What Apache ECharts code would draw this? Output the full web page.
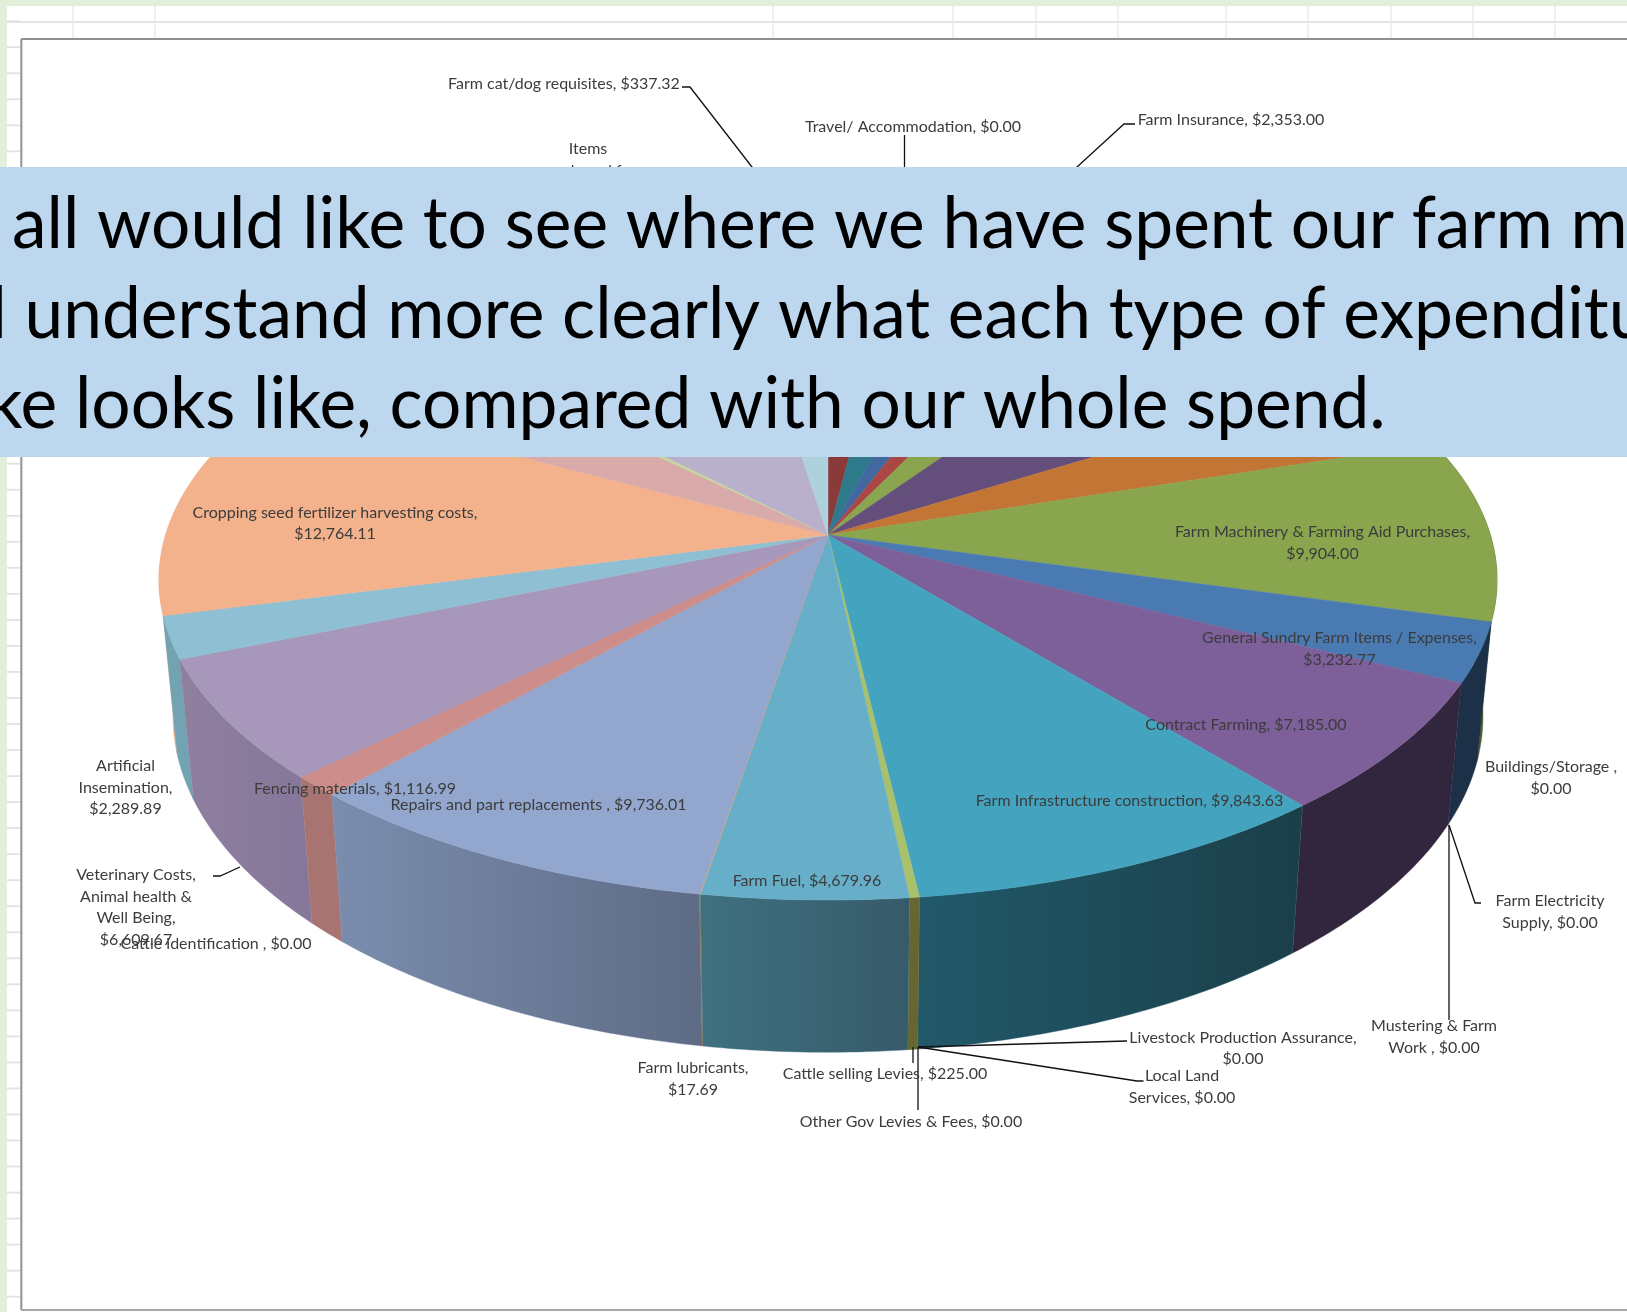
<!DOCTYPE html>
<html><head><meta charset="utf-8">
<style>html,body{margin:0;padding:0;background:#fff}#c{width:1627px;height:1312px}</style>
<script src="https://cdn.jsdelivr.net/npm/echarts@6/dist/echarts.min.js"></script>
</head><body><div id="c"></div>
<script>
// ---------- data, clockwise from 12 o'clock ----------
const categories = [
 "Farm Machinery Hire","Farm Insurance","Farm Admin","Farm Licences","Farm Tools","Livestock Purchases","Farm Transport",
 "Farm Machinery & Farming Aid Purchases","Buildings/Storage ","Farm Electricity Supply","Mustering & Farm Work ",
 "General Sundry Farm Items / Expenses","Contract Farming","Farm Infrastructure construction",
 "Livestock Production Assurance","Local Land Services","Other Gov Levies & Fees","Cattle selling Levies",
 "Farm Fuel","Farm lubricants","Repairs and part replacements ","Cattle identification ","Fencing materials",
 "Veterinary Costs, Animal health & Well Being","Artificial Insemination","Cropping seed fertilizer harvesting costs",
 "Farm Pasture Costs","Farm cat/dog requisites","Items purchased for farm","Travel/ Accommodation","Farm Advisory Fees"];
const spend = [
 2200,2353,1700,1550,2600,7020,4250,
 9904,0,0,0,
 3232.77,7185,9843.63,
 0,0,0,225,
 4679.96,17.69,9736.01,0,1116.99,
 6609.67,2289.89,12764.11,
 4800,337.32,10650,0,2700];
const topColors = [
 "#8b3a3a","#2e7a8a","#41699f","#aa4643","#89a54e","#634e7c","#c27535",
 "#89a54e","#4a7ab2","#7d5f99","#44a3bf",
 "#4a7ab2","#7d5f99","#44a3bf",
 "#44a3bf","#44a3bf","#44a3bf","#a9c06c",
 "#67afc9","#d9a066","#92a6ce","#92a6ce","#cd8d8a",
 "#a797bb","#8fbfd2","#f4b28c",
 "#d9aaaa","#c6d69b","#b9b0cb","#b9b0cb","#aed2dd"];
const sideColors = {
 "Farm Machinery & Farming Aid Purchases":["#4e5f2c","#4e5f2c"],
 "General Sundry Farm Items / Expenses":["#1c3047","#1c3047"],
 "Contract Farming":["#31263d","#31263d"],
 "Farm Infrastructure construction":["#21596a","#1b3f49"],
 "Cattle selling Levies":["#676630","#676630"],
 "Farm Fuel":["#3f7180","#365a69"],
 "Farm lubricants":["#9a7a55","#9a7a55"],
 "Repairs and part replacements ":["#7b8dae","#5e6b85"],
 "Fencing materials":["#a87472","#a87472"],
 "Veterinary Costs, Animal health & Well Being":["#8f7f9f","#85779a"],
 "Artificial Insemination":["#72a3b3","#72a3b3"],
 "Cropping seed fertilizer harvesting costs":["#e9a97f","#e9a97f"]
};
const bannerLines = ["all would like to see where we have spent our farm m","l understand more clearly what each type of expenditu","ke looks like, compared with our whole spend."];

// ---------- layout ----------
const W = 1627, H = 1312;
const PIE = {cx:828, cy:535, A:662.4, B:313.7, k:0.1406, wallX:0.979, wallY:1.05, wallD:134};
const labelLayout = {
 "Farm cat/dog requisites":{x:564,y:84,text:"Farm cat/dog requisites, $"},
 "Travel/ Accommodation":{x:913,y:126.5,text:"Travel/ Accommodation, $"},
 "Farm Insurance":{x:1231,y:120,text:"Farm Insurance, $"},
 "Items purchased for farm":{x:588,y:149,text:"Items\npurchased for"},
 "Cropping seed fertilizer harvesting costs":{x:335,y:512.5,text:"Cropping seed fertilizer harvesting costs,\n$"},
 "Farm Machinery & Farming Aid Purchases":{x:1322.5,y:532,text:"Farm Machinery & Farming Aid Purchases,\n$"},
 "General Sundry Farm Items / Expenses":{x:1339.5,y:638,text:"General Sundry Farm Items / Expenses,\n$"},
 "Contract Farming":{x:1246,y:725,text:"Contract Farming, $"},
 "Farm Infrastructure construction":{x:1129.5,y:801,text:"Farm Infrastructure construction, $"},
 "Farm Fuel":{x:807,y:881,text:"Farm Fuel, $"},
 "Repairs and part replacements ":{x:538.5,y:805,text:"Repairs and part replacements , $"},
 "Fencing materials":{x:355,y:788.5,text:"Fencing materials, $"},
 "Artificial Insemination":{x:125.5,y:766,text:"Artificial\nInsemination,\n$"},
 "Veterinary Costs, Animal health & Well Being":{x:136,y:875,text:"Veterinary Costs,\nAnimal health &\nWell Being,\n$"},
 "Cattle identification ":{x:216,y:944,text:"Cattle identification , $"},
 "Buildings/Storage ":{x:1551,y:767,text:"Buildings/Storage ,\n$"},
 "Farm Electricity Supply":{x:1550,y:901,text:"Farm Electricity\nSupply, $"},
 "Mustering & Farm Work ":{x:1434,y:1026,text:"Mustering & Farm\nWork , $"},
 "Livestock Production Assurance":{x:1243,y:1037.5,text:"Livestock Production Assurance,\n$"},
 "Local Land Services":{x:1182,y:1076,text:"Local Land\nServices, $"},
 "Other Gov Levies & Fees":{x:911,y:1121.6,text:"Other Gov Levies & Fees, $"},
 "Cattle selling Levies":{x:885,y:1074,text:"Cattle selling Levies, $"},
 "Farm lubricants":{x:693,y:1068,text:"Farm lubricants,\n$"}
};
const leaderLayout = {
 "Farm cat/dog requisites":[[682,87],[690,87],[752,167],[800,230]],
 "Travel/ Accommodation":[[904.5,135],[904.5,220]],
 "Farm Insurance":[[1135,124],[1124,124],[1077,167],[1000,230]],
 "Veterinary Costs, Animal health & Well Being":[[213,876],[220,876],[240,867]],
 "Farm Electricity Supply":[[1449,825],[1475,903],[1481,903]],
 "Mustering & Farm Work ":[[1449,825],[1449,1020]],
 "Livestock Production Assurance":[[918,1047],[1127,1041]],
 "Local Land Services":[[918,1047],[1137,1081],[1143.5,1081]],
 "Other Gov Levies & Fees":[[918,1047],[918,1110]],
 "Cattle selling Levies":[[913,1047],[913,1063]]
};
const gridCols = [73,155,773,953,1036,1118,1226,1308,1391,1473,1555];
const gridRowStep = 26.03, gridRowStart = 21.2;

// ---------- geometry from the values ----------
const total = spend.reduce((a,b)=>a+b,0);
let running = 0;
const sliceData = spend.map((v,i)=>{const s=running; running+=v; return [s,running,i];});
// walls are painted from the sides of the pie toward its front
const wallData = sliceData.slice().sort((p,q)=>Math.abs((q[0]+q[1])/2-total/2)-Math.abs((p[0]+p[1])/2-total/2));
function rimTop(phi){
  const w = 1 + PIE.k*Math.cos(phi);
  return [PIE.cx + PIE.A*Math.sin(phi)/w, PIE.cy - PIE.B*Math.cos(phi)/w];
}
function rimBottom(phi){
  const p = rimTop(phi);
  return [PIE.cx + (p[0]-PIE.cx)*PIE.wallX, PIE.cy + (p[1]-PIE.cy)*PIE.wallY + PIE.wallD];
}
function arc(fn,a,b){
  const n = Math.max(2,Math.ceil(Math.abs(b-a)/(Math.PI/240)));
  const out=[]; for(let i=0;i<=n;i++) out.push(fn(a+(b-a)*i/n));
  return out;
}
const toPhi = v => v/total*2*Math.PI;
function renderTop(params,api){
  const a=toPhi(api.value(0)), b=toPhi(api.value(1)), i=api.value(2);
  if(b<=a) return {type:'group',children:[]};
  const pts=[[PIE.cx,PIE.cy]].concat(arc(rimTop,a,b));
  return {type:'polygon',shape:{points:pts},style:{fill:topColors[i],stroke:topColors[i],lineWidth:0.5}};
}
function renderWall(params,api){
  const i=api.value(2); const c=sideColors[categories[i]];
  const lo=Math.max(toPhi(api.value(0)),65*Math.PI/180), hi=Math.min(toPhi(api.value(1)),295*Math.PI/180);
  if(!c||hi<=lo) return {type:'group',children:[]};
  const pts=arc(rimTop,lo,hi).concat(arc(rimBottom,hi,lo));
  return {type:'polygon',shape:{points:pts},style:{
    fill:new echarts.graphic.LinearGradient(0,0,1,0,[{offset:0,color:c[0]},{offset:1,color:c[1]}]),
    stroke:c[0],lineWidth:0.4}};
}
const money = v => v.toLocaleString('en-US',{minimumFractionDigits:2,maximumFractionDigits:2});
const LINE_H = 21.5;
function renderLabel(params,api){
  const i=api.value(2), name=categories[i], L=labelLayout[name], kids=[];
  const lead=leaderLayout[name];
  if(lead) kids.push({type:'polyline',shape:{points:lead},style:{fill:null,stroke:'#111',lineWidth:1.3}});
  if(L){
    const t = L.text.endsWith('$') ? L.text+money(spend[i]) : L.text;
    const n = t.split('\n').length;
    kids.push({type:'text',style:{x:L.x,y:L.y+(n-1)*LINE_H/2,text:t,align:'center',verticalAlign:'middle',
      font:'16px Lato',lineHeight:LINE_H,fill:'#3c3c3c',shadowBlur:1.5,shadowColor:'rgba(60,60,60,0.6)'}});
  }
  return {type:'group',children:kids};
}

// ---------- sheet furniture ----------
const sheet=[];
sheet.push({type:'rect',z:0,shape:{x:0,y:0,width:W,height:6},style:{fill:'#e2efda'}});
sheet.push({type:'rect',z:0,shape:{x:0,y:0,width:7,height:H},style:{fill:'#e2efda'}});
sheet.push({type:'line',z:0,shape:{x1:7,y1:22,x2:W,y2:22},style:{stroke:'#e4e4e4',lineWidth:1.8}});
gridCols.forEach(x=>sheet.push({type:'line',z:0,shape:{x1:x,y1:6,x2:x,y2:39},style:{stroke:'#e4e4e4',lineWidth:1.2}}));
for(let y=gridRowStart;y<H;y+=gridRowStep) sheet.push({type:'line',z:0,shape:{x1:7,y1:y,x2:20,y2:y},style:{stroke:'#e2e2e2',lineWidth:1.8}});
sheet.push({type:'line',z:1,shape:{x1:21.3,y1:39,x2:W,y2:39},style:{stroke:'#8f8f8f',lineWidth:2}});
sheet.push({type:'line',z:1,shape:{x1:21.3,y1:39,x2:21.3,y2:1310},style:{stroke:'#9a9a9a',lineWidth:2.2}});
sheet.push({type:'line',z:1,shape:{x1:21.3,y1:1310,x2:W,y2:1310},style:{stroke:'#a6a6a6',lineWidth:2}});
sheet.push({type:'rect',z:50,shape:{x:0,y:167,width:W,height:290},style:{fill:'#bdd7ee'}});
const bannerX=[12,-9.6,-12.8], bannerY=[225,315,405], BANNER_SCALE=0.964;
bannerLines.forEach((t,i)=>sheet.push({type:'text',z:51,x:bannerX[i],y:bannerY[i],scaleX:BANNER_SCALE,
  style:{x:0,y:0,text:t,font:'72px Lato',fill:'#000',verticalAlign:'middle'}}));

const chart=echarts.init(document.getElementById('c'),null,{renderer:'canvas'});
chart.setOption({
  animation:false,backgroundColor:'#fff',
  graphic:{elements:sheet},
  series:[
   {type:'custom',name:'side',coordinateSystem:'none',z:3,silent:true,renderItem:renderWall,data:wallData},
   {type:'custom',name:'spend',coordinateSystem:'none',z:4,silent:true,renderItem:renderTop,data:sliceData},
   {type:'custom',name:'labels',coordinateSystem:'none',z:5,silent:true,renderItem:renderLabel,data:sliceData}
  ]
});
</script></body></html>
